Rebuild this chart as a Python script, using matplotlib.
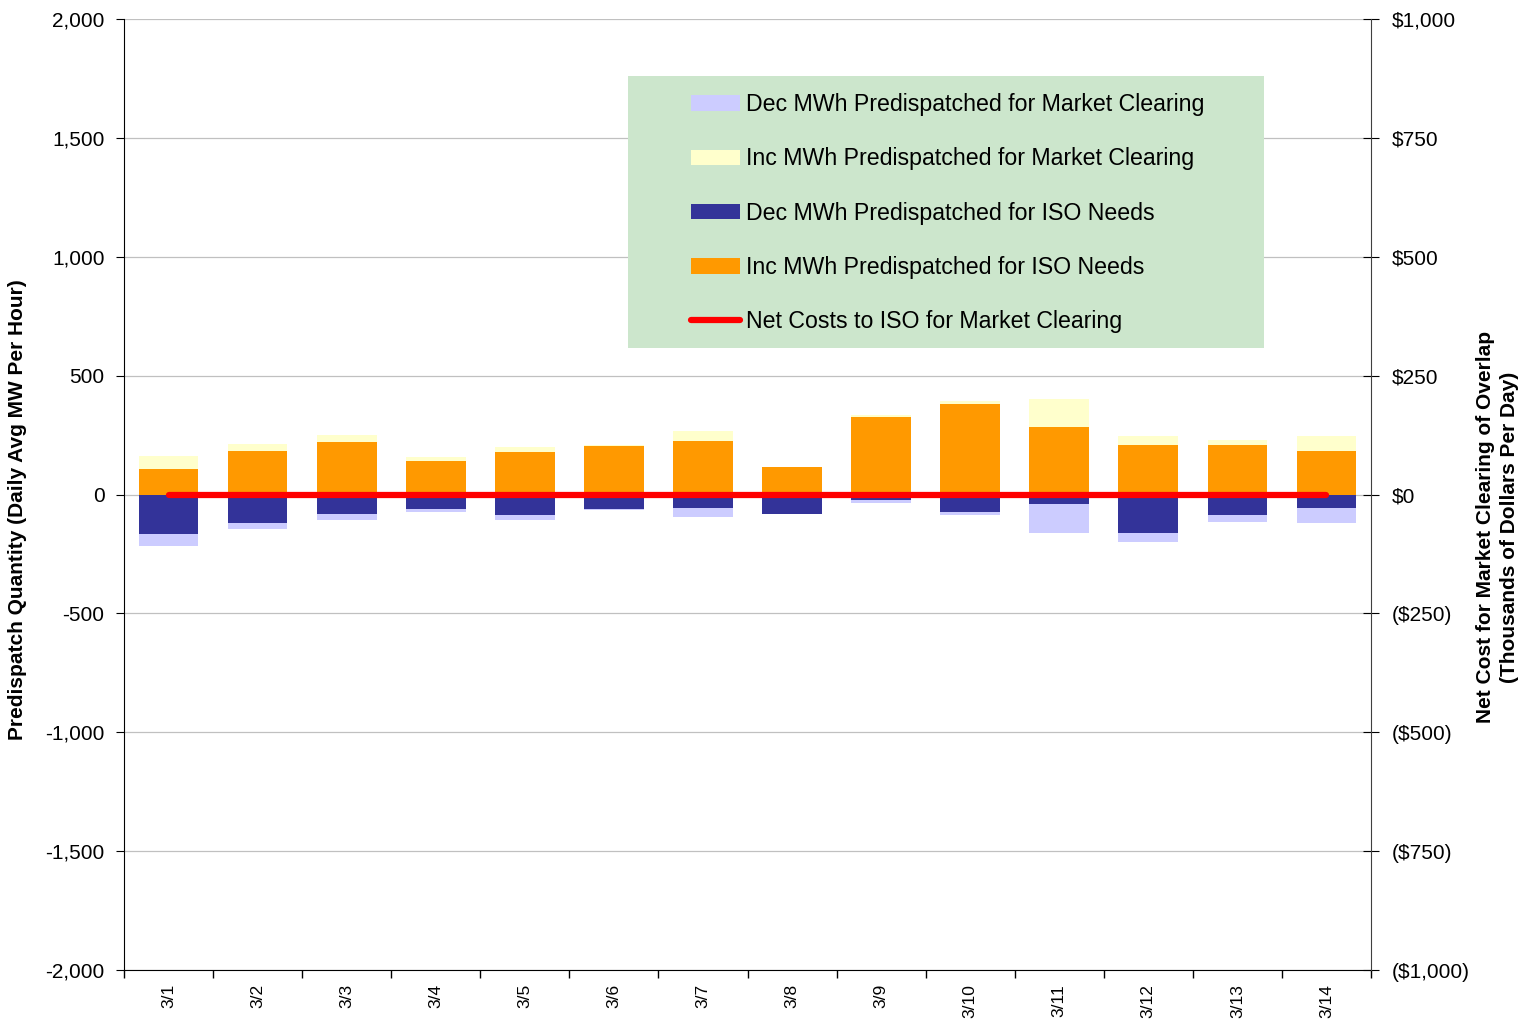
import numpy as np
import matplotlib.pyplot as plt
from matplotlib.patches import Rectangle
from matplotlib.ticker import FuncFormatter, FixedLocator

plt.rcParams['font.family'] = ['Liberation Sans', 'DejaVu Sans']

days = ["3/1", "3/2", "3/3", "3/4", "3/5", "3/6", "3/7",
        "3/8", "3/9", "3/10", "3/11", "3/12", "3/13", "3/14"]
inc_iso = [109, 185, 219, 143, 177, 206, 227, 114, 328, 379, 282, 210, 210, 185]
inc_mkt = [51, 29, 30, 13, 22, 3, 38, 0, 8, 16, 118, 34, 21, 63]
dec_iso = [-168, -118, -80, -59, -88, -63, -55, -84, -25, -72, -42, -164, -88, -55]
dec_mkt = [-49, -29, -29, -13, -21, -4, -38, 0, -9, -16, -118, -34, -26, -63]
net_cost = [0, 0, 0, 0, 0, 0, 0, 0, 0, 0, 0, 0, 0, 0]

if __name__ == "__main__":
    fig = plt.figure(figsize=(15.34, 10.23), dpi=100)
    ax = fig.add_axes([124 / 1534, 1 - 970 / 1023, 1247 / 1534, 951 / 1023])
    x = np.arange(len(days))
    w = 0.67

    b1 = ax.bar(x, dec_mkt, w, bottom=dec_iso, color='#CCCCFF', zorder=2,
                label='Dec MWh Predispatched for Market Clearing')
    b2 = ax.bar(x, inc_mkt, w, bottom=inc_iso, color='#FFFFCC', zorder=2,
                label='Inc MWh Predispatched for Market Clearing')
    b3 = ax.bar(x, dec_iso, w, color='#333399', zorder=2,
                label='Dec MWh Predispatched for ISO Needs')
    b4 = ax.bar(x, inc_iso, w, color='#FF9900', zorder=2,
                label='Inc MWh Predispatched for ISO Needs')

    ax.set_xlim(-0.5, len(days) - 0.5)
    ax.set_ylim(-2000, 2000)
    ax.set_yticks(np.arange(-2000, 2001, 500))
    ax.yaxis.set_major_formatter(FuncFormatter(lambda v, p: f"{int(v):,}"))
    ax.grid(axis='y', color='#C0C0C0', lw=0.9, zorder=0)
    ax.set_axisbelow(True)
    ax.xaxis.set_major_locator(FixedLocator(np.arange(-0.5, len(days), 1)))
    ax.xaxis.set_minor_locator(FixedLocator(x))
    ax.set_xticklabels([])
    ax.set_xticklabels(days, minor=True, rotation=90, fontsize=12.5)
    ax.tick_params(axis='x', which='major', direction='out', length=6, width=1)
    ax.tick_params(axis='x', which='minor', length=0, pad=10)
    ax.tick_params(axis='y', direction='out', length=6, labelsize=15, pad=8)
    ax.spines['top'].set_visible(False)
    ax.spines['right'].set_visible(False)
    ax.set_ylabel("Predispatch Quantity (Daily Avg MW Per Hour)", fontsize=15,
                  fontweight='bold')
    ax.yaxis.set_label_coords(-0.078, 0.4837)

    ax2 = ax.twinx()
    line, = ax2.plot(x, net_cost, color='#FF0000', lw=4.5, solid_capstyle='round',
                     label='Net Costs to ISO for Market Clearing', zorder=3)
    ax2.set_ylim(-1000, 1000)
    ax2.set_yticks(np.arange(-1000, 1001, 250))

    def money(v, p):
        v = int(v)
        return f"${v:,}" if v >= 0 else f"(${-v:,})"

    ax2.yaxis.set_major_formatter(FuncFormatter(money))
    ax2.tick_params(axis='y', direction='inout', length=12, labelsize=15, pad=9)
    ax2.spines['top'].set_visible(False)
    ax2.spines['left'].set_visible(False)
    ax2.spines['bottom'].set_visible(False)
    ax2.spines['right'].set_color('#404040')
    ax2.set_ylabel("Net Cost for Market Clearing of Overlap\n(Thousands of Dollars Per Day)",
                   fontsize=15, fontweight='bold', linespacing=1.3)
    ax2.yaxis.set_label_coords(1.0845, 0.4658)

    # legend box
    ax2.add_patch(Rectangle((0.404, 0.654), 0.51, 0.286, transform=ax2.transAxes,
                            facecolor='#CCE6CC', edgecolor='none', zorder=4))
    leg = ax2.legend([b1, b2, b3, b4, line],
                     [b1.get_label(), b2.get_label(), b3.get_label(), b4.get_label(),
                      line.get_label()],
                     loc='upper left', bbox_to_anchor=(0.4547, 0.922), frameon=False,
                     fontsize=16.7, labelspacing=1.35, handlelength=2.1,
                     handleheight=0.65, handletextpad=0.26, borderpad=0, borderaxespad=0)
    leg.set_zorder(5)

    fig.savefig("out.png", dpi=100)
